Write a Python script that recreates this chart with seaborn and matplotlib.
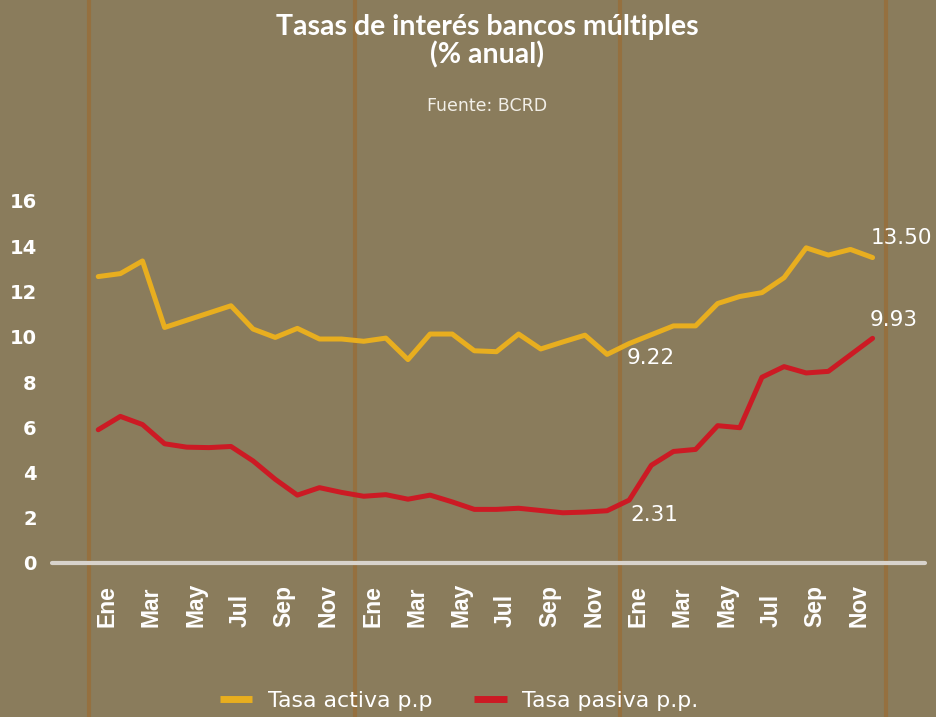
import numpy as np
import pandas as pd
import matplotlib
matplotlib.use("Agg")
import matplotlib.pyplot as plt
from matplotlib.lines import Line2D
import seaborn as sns

# --- data (monthly, three years) ---
month_labels = ["Ene", "Mar", "May", "Jul", "Sep", "Nov"] * 3
activa = [12.66, 12.79, 13.35, 10.41, 10.73, 11.05, 11.37, 10.34, 9.97, 10.37, 9.90, 9.90,
          9.80, 9.94, 8.99, 10.12, 10.12, 9.38, 9.34, 10.12, 9.46, 9.77, 10.07, 9.22,
          9.70, 10.09, 10.48, 10.48, 11.47, 11.78, 11.95, 12.61, 13.93, 13.61, 13.86, 13.50]
pasiva = [5.89, 6.48, 6.12, 5.27, 5.12, 5.10, 5.15, 4.51, 3.70, 3.00, 3.33, 3.12,
          2.95, 3.02, 2.82, 3.00, 2.70, 2.37, 2.37, 2.42, 2.32, 2.22, 2.25, 2.31,
          2.78, 4.32, 4.93, 5.02, 6.07, 5.98, 8.21, 8.68, 8.40, 8.47, 9.20, 9.93]
series_names = ["Tasa activa p.p", "Tasa pasiva p.p."]
label_points = [23, 35]  # months that carry a data label

BG = "#8A7C5C"
YELLOW = "#E8AE1F"
RED = "#CC1A24"
BROWN = "#95703F"
AXIS = "#D8D3CC"

sns.set_style("white")
plt.rcParams["font.family"] = ["DejaVu Sans"]

n = len(activa)
df = pd.DataFrame({
    "mes": list(range(n)) * 2,
    "tasa": activa + pasiva,
    "serie": [series_names[0]] * n + [series_names[1]] * n,
})

fig = plt.figure(figsize=(9.36, 7.17), dpi=100, facecolor=BG)
ax = fig.add_axes([52 / 936, 1 - 563 / 717, (925 - 52) / 936, (563 - 201) / 717])
ax.set_facecolor(BG)

# decorative year separators running through the whole picture
for k in range(4):
    ax.axvline(k * 12 - 0.4, ymin=-0.43, ymax=1.56, color=BROWN, lw=3,
               clip_on=False, zorder=0)

sns.lineplot(data=df, x="mes", y="tasa", hue="serie",
             palette=[YELLOW, RED], linewidth=3.6, legend=False, ax=ax, zorder=2)

ax.axhline(0, color=AXIS, lw=3, clip_on=False, zorder=3)

ax.set_xlim(-2.09, 37.37)
ax.set_ylim(0, 16)
ax.set_yticks(np.arange(0, 17, 2))
ax.set_yticklabels([str(v) for v in range(0, 17, 2)],
                   fontsize=14, fontweight="bold", color="white")
ax.set_xticks(np.arange(0, n, 2) + 0.4)
ax.set_xticklabels(month_labels, rotation=90, fontsize=16.5, fontweight="bold",
                   color="white", family=["Liberation Sans Narrow", "Liberation Sans"],
                   va="bottom")
ax.tick_params(axis="x", length=0, pad=46)
ax.tick_params(axis="y", length=0, pad=11)
ax.set_xlabel("")
ax.set_ylabel("")
sns.despine(ax=ax, left=True, bottom=True)

# data labels
lab = dict(color="white", fontsize=15.5, textcoords="offset pixels", ha="left")
ax.annotate(f"{activa[label_points[0]]:.2f}", (label_points[0], activa[label_points[0]]),
            xytext=(20, -4), va="center", **lab)
ax.annotate(f"{pasiva[label_points[0]]:.2f}", (label_points[0], pasiva[label_points[0]]),
            xytext=(23, -4), va="center", **lab)
ax.annotate(f"{activa[label_points[1]]:.2f}", (label_points[1], activa[label_points[1]]),
            xytext=(-2, 20), va="center", **lab)
ax.annotate(f"{pasiva[label_points[1]]:.2f}", (label_points[1], pasiva[label_points[1]]),
            xytext=(-3, 18), va="center", **lab)

# titles
fig.text(487 / 936, 1 - 35 / 717, "Tasas de interés bancos múltiples", ha="center",
         va="baseline", color="white", fontsize=20.5, fontweight="bold", family="Lato")
fig.text(487 / 936, 1 - 63 / 717, "(% anual)", ha="center", va="baseline",
         color="white", fontsize=20.5, fontweight="bold", family="Lato")
fig.text(487 / 936, 1 - 106 / 717, "Fuente: BCRD", ha="center", va="center",
         color="#F2EFE8", fontsize=12.5)

handles = [Line2D([], [], color=c, lw=5, solid_capstyle="butt") for c in (YELLOW, RED)]
leg = fig.legend(handles, series_names, loc="center", bbox_to_anchor=(459 / 936, 1 - 701 / 717),
                 ncol=2, frameon=False, fontsize=15.8, handlelength=1.5, handletextpad=0.7,
                 columnspacing=1.9, labelcolor="white")

fig.savefig("out.png", dpi=100, facecolor=BG)
